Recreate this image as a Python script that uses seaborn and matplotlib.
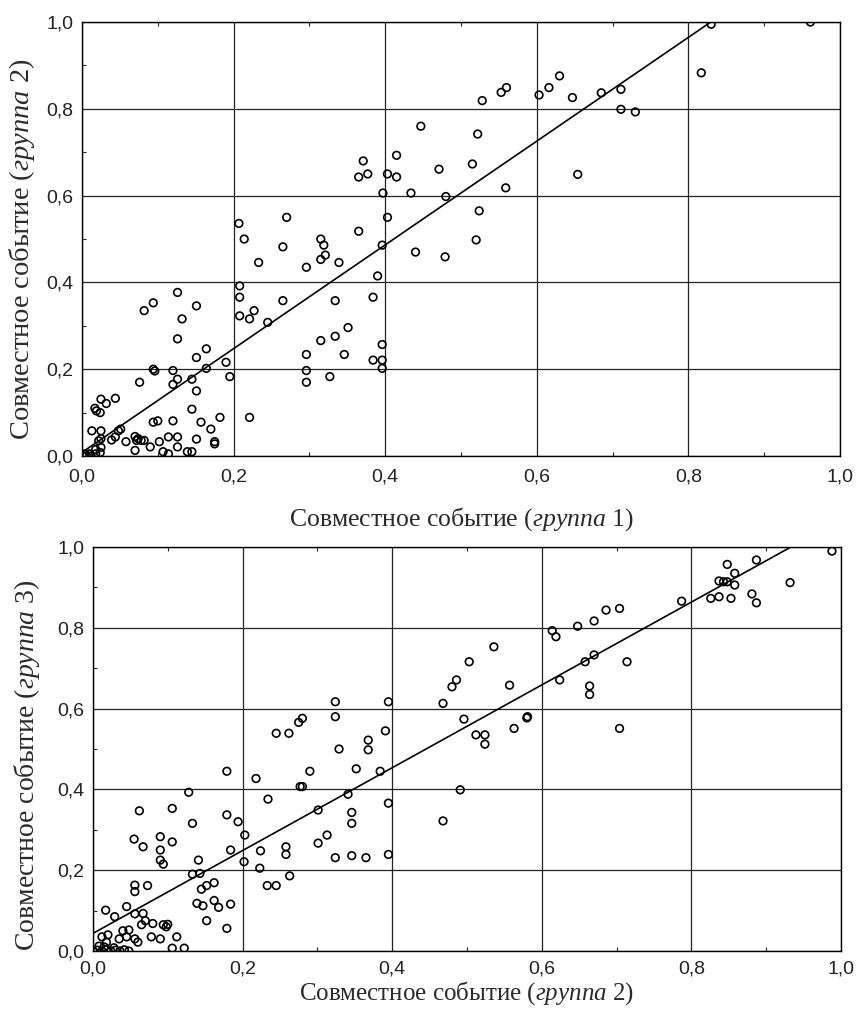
import numpy as np
import pandas as pd
import matplotlib
matplotlib.use('Agg')
import matplotlib.pyplot as plt
from matplotlib.ticker import MultipleLocator, FuncFormatter
import seaborn as sns

# верхний график: группа 1 (x) против группы 2 (y)
g1_x = [0.830, 0.961, 0.817, 0.528, 0.553, 0.560, 0.603, 0.616, 0.630, 0.647, 0.685, 0.711, 0.711, 0.730,
        0.447, 0.522, 0.471, 0.515, 0.654, 0.559, 0.480, 0.524, 0.520, 0.479,
        0.371, 0.365, 0.377, 0.403, 0.415, 0.415, 0.397, 0.434, 0.403, 0.207, 0.214, 0.270, 0.315, 0.319,
        0.365, 0.265, 0.396, 0.440, 0.321, 0.315, 0.233, 0.296, 0.339, 0.390,
        0.126, 0.094, 0.082, 0.151, 0.132, 0.126, 0.208, 0.208, 0.208, 0.221, 0.227, 0.245, 0.265, 0.334,
        0.384, 0.351, 0.334, 0.315, 0.296, 0.346, 0.396, 0.384, 0.396, 0.396, 0.296, 0.296, 0.327, 0.221,
        0.195, 0.190, 0.164, 0.151, 0.164, 0.145, 0.151, 0.120, 0.126, 0.120, 0.094, 0.096, 0.076,
        0.145, 0.182, 0.120, 0.157, 0.170, 0.151, 0.175, 0.175, 0.094, 0.100, 0.025, 0.032, 0.044, 0.019,
        0.024, 0.017, 0.013, 0.025, 0.051, 0.048, 0.044, 0.039, 0.025, 0.022, 0.025, 0.018, 0.058, 0.070,
        0.074, 0.078, 0.072, 0.082, 0.090, 0.102, 0.114, 0.126, 0.107, 0.114, 0.126, 0.139, 0.145, 0.070,
        0.004, 0.010, 0.018, 0.024, 0.002, 0.006, 0.012]
g2_y = [0.995, 1.000, 0.883, 0.819, 0.838, 0.849, 0.832, 0.849, 0.876, 0.826, 0.837, 0.845, 0.799, 0.793,
        0.760, 0.742, 0.661, 0.673, 0.649, 0.618, 0.598, 0.565, 0.498, 0.459,
        0.680, 0.643, 0.650, 0.650, 0.693, 0.643, 0.606, 0.606, 0.550, 0.536, 0.500, 0.550, 0.500, 0.486,
        0.518, 0.482, 0.486, 0.470, 0.463, 0.453, 0.446, 0.435, 0.446, 0.415,
        0.377, 0.353, 0.335, 0.346, 0.316, 0.270, 0.392, 0.366, 0.323, 0.316, 0.335, 0.308, 0.358, 0.358,
        0.366, 0.296, 0.276, 0.266, 0.234, 0.234, 0.257, 0.221, 0.221, 0.202, 0.197, 0.170, 0.183, 0.089,
        0.183, 0.216, 0.247, 0.227, 0.202, 0.177, 0.150, 0.197, 0.177, 0.165, 0.200, 0.196, 0.170,
        0.108, 0.089, 0.081, 0.078, 0.062, 0.039, 0.033, 0.028, 0.078, 0.081, 0.131, 0.121, 0.133, 0.104,
        0.100, 0.110, 0.058, 0.058, 0.062, 0.058, 0.044, 0.037, 0.040, 0.035, 0.020, 0.015, 0.033, 0.045,
        0.040, 0.036, 0.036, 0.036, 0.021, 0.033, 0.044, 0.044, 0.010, 0.005, 0.021, 0.010, 0.010, 0.013,
        0.005, 0.005, 0.005, 0.008, 0.000, 0.000, 0.000]

# нижний график: группа 2 (x) против группы 3 (y)
h2_x = [0.988, 0.887, 0.848, 0.858, 0.837, 0.843, 0.848, 0.858, 0.932, 0.826, 0.837, 0.853, 0.881, 0.887,
        0.787, 0.704, 0.686, 0.670, 0.648, 0.614, 0.619, 0.670, 0.658, 0.714, 0.624, 0.664, 0.664, 0.704,
        0.536, 0.503, 0.486, 0.480, 0.557, 0.468, 0.496, 0.512, 0.524, 0.524, 0.563, 0.580, 0.581, 0.491,
        0.468,
        0.324, 0.324, 0.395, 0.391, 0.280, 0.275, 0.245, 0.262, 0.329, 0.368, 0.368, 0.179, 0.218, 0.290,
        0.352, 0.384, 0.277, 0.280, 0.128, 0.234, 0.341, 0.395, 0.062, 0.106, 0.133, 0.179, 0.194, 0.301,
        0.346, 0.346, 0.313, 0.301, 0.203, 0.055, 0.067, 0.090, 0.106, 0.090, 0.090, 0.094, 0.141, 0.184,
        0.224, 0.258, 0.258, 0.202, 0.223, 0.263, 0.233, 0.245, 0.324, 0.346, 0.365, 0.395, 0.133, 0.143,
        0.056, 0.056, 0.073, 0.145, 0.152, 0.162, 0.139, 0.147, 0.162, 0.168, 0.184, 0.152, 0.179,
        0.045, 0.017, 0.029, 0.056, 0.067, 0.070, 0.065, 0.080, 0.094, 0.100, 0.098, 0.112, 0.090, 0.078,
        0.040, 0.048, 0.045, 0.056, 0.060, 0.035, 0.020, 0.012, 0.018, 0.008, 0.106, 0.122, 0.000, 0.006,
        0.012, 0.018, 0.024, 0.030, 0.036, 0.042, 0.048, 0.015, 0.028]
h3_y = [0.990, 0.968, 0.957, 0.935, 0.916, 0.914, 0.914, 0.906, 0.912, 0.873, 0.877, 0.873, 0.884, 0.862,
        0.866, 0.848, 0.844, 0.817, 0.804, 0.793, 0.778, 0.733, 0.716, 0.716, 0.671, 0.656, 0.635, 0.551,
        0.753, 0.716, 0.671, 0.654, 0.658, 0.613, 0.574, 0.535, 0.535, 0.512, 0.551, 0.577, 0.580, 0.399,
        0.322,
        0.617, 0.580, 0.617, 0.545, 0.576, 0.566, 0.539, 0.539, 0.500, 0.522, 0.498, 0.445, 0.427, 0.445,
        0.451, 0.445, 0.407, 0.407, 0.393, 0.376, 0.388, 0.366, 0.347, 0.353, 0.316, 0.337, 0.320, 0.349,
        0.343, 0.316, 0.287, 0.267, 0.287, 0.277, 0.258, 0.283, 0.270, 0.250, 0.225, 0.215, 0.225, 0.250,
        0.248, 0.258, 0.239, 0.221, 0.205, 0.186, 0.162, 0.162, 0.231, 0.236, 0.231, 0.239, 0.190, 0.192,
        0.163, 0.147, 0.162, 0.153, 0.162, 0.169, 0.118, 0.112, 0.125, 0.108, 0.116, 0.075, 0.056,
        0.110, 0.101, 0.085, 0.092, 0.093, 0.075, 0.065, 0.068, 0.065, 0.066, 0.060, 0.035, 0.030, 0.035,
        0.050, 0.052, 0.035, 0.030, 0.022, 0.030, 0.040, 0.035, 0.022, 0.012, 0.007, 0.007, 0.000, 0.002,
        0.000, 0.003, 0.000, 0.002, 0.000, 0.003, 0.000, 0.010, 0.008]

ticks = [0.0, 0.2, 0.4, 0.6, 0.8, 1.0]

sns.set_style('white')
plt.rcParams['font.family'] = ['Liberation Sans', 'DejaVu Sans']
plt.rcParams['mathtext.fontset'] = 'custom'
plt.rcParams['mathtext.rm'] = 'Liberation Serif'
plt.rcParams['mathtext.it'] = 'Liberation Serif:italic'

fig = plt.figure(figsize=(8.56, 10.17), dpi=100)
ax1 = fig.add_axes([0.0958, 0.5516, 0.8855, 0.4267])
ax2 = fig.add_axes([0.1086, 0.0649, 0.8738, 0.3972])

comma = FuncFormatter(lambda v, p: f'{v:.1f}'.replace('.', ','))
serif = ['Liberation Serif', 'DejaVu Serif']


def panel(ax, xs, ys, xlab, ylab, xpad, xfs, yfs):
    df = pd.DataFrame({'x': xs, 'y': ys})
    ax.set_axisbelow(True)
    ax.grid(True, color='#222222', linewidth=0.9)
    sns.scatterplot(data=df, x='x', y='y', ax=ax, marker='o', s=30,
                    facecolor='none', edgecolor='black', linewidth=1.2, zorder=3)
    sns.regplot(data=df, x='x', y='y', ax=ax, scatter=False, ci=None,
                line_kws=dict(color='black', linewidth=1.2, zorder=4))
    ax.set_xlim(0, 1)
    ax.set_ylim(0, 1)
    ax.set_xticks(ticks)
    ax.set_yticks(ticks)
    ax.xaxis.set_major_formatter(comma)
    ax.yaxis.set_major_formatter(comma)
    ax.xaxis.set_minor_locator(MultipleLocator(0.1))
    ax.yaxis.set_minor_locator(MultipleLocator(0.1))
    ax.tick_params(which='major', length=0, labelsize=14, colors='#222222')
    ax.tick_params(axis='x', which='major', pad=xpad)
    ax.tick_params(axis='y', which='major', pad=6)
    ax.tick_params(which='minor', direction='in', length=3, width=0.8,
                   top=True, bottom=True, left=True, right=False)
    for sp in ax.spines.values():
        sp.set_color('black')
        sp.set_linewidth(1.0)
    ax.set_xlabel(xlab, fontsize=xfs, color='#2a2a2a', family=serif)
    ax.set_ylabel(ylab, fontsize=yfs, color='#2a2a2a', family=serif)


panel(ax1, g1_x, g2_y,
      r'Совместное событие ($\mathit{группа}$ 1)',
      r'Совместное событие ($\mathit{группа}$ 2)', 9, 18.5, 20.5)
ax1.xaxis.set_label_coords(0.5, -0.113)
ax1.yaxis.set_label_coords(-0.06, 0.477)

panel(ax2, h2_x, h3_y,
      r'Совместное событие ($\mathit{группа}$ 2)',
      r'Совместное событие ($\mathit{группа}$ 3)', 7, 18, 20)
ax2.xaxis.set_label_coords(0.5, -0.07)
ax2.yaxis.set_label_coords(-0.068, 0.46)

fig.savefig('out.png', dpi=100)
